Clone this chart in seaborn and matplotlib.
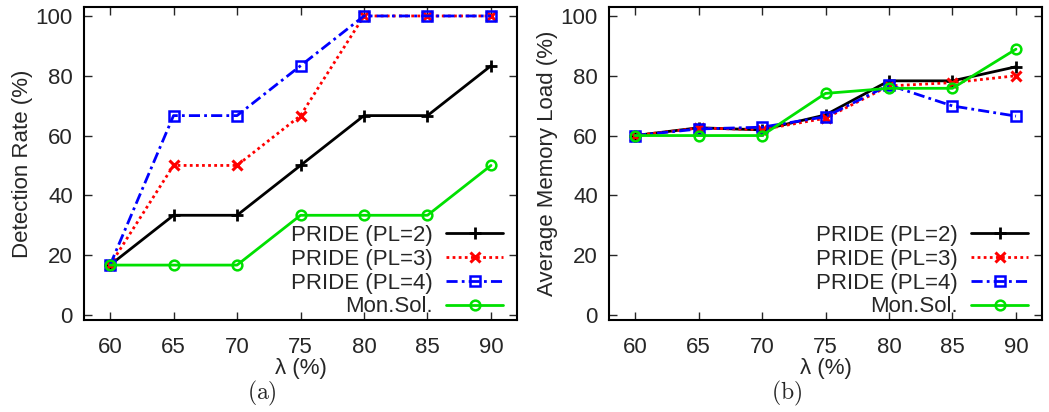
import numpy as np
import pandas as pd
import matplotlib
matplotlib.use("Agg")
import matplotlib.pyplot as plt
import seaborn as sns

# Load factor lambda (%)
lam = [60, 65, 70, 75, 80, 85, 90]
series_names = ["PRIDE (PL=2)", "PRIDE (PL=3)", "PRIDE (PL=4)", "Mon.Sol."]

# (a) detection rate (%)
det_pl2 = [16.67, 33.33, 33.33, 50.0, 66.67, 66.67, 83.33]
det_pl3 = [16.67, 50.0, 50.0, 66.67, 100.0, 100.0, 100.0]
det_pl4 = [16.67, 66.67, 66.67, 83.33, 100.0, 100.0, 100.0]
det_mon = [16.67, 16.67, 16.67, 33.33, 33.33, 33.33, 50.0]

# (b) average memory load (%)
mem_pl2 = [60.0, 62.6, 61.9, 66.9, 78.3, 78.3, 83.0]
mem_pl3 = [60.0, 62.5, 62.0, 65.8, 76.6, 77.7, 80.0]
mem_pl4 = [60.0, 62.2, 62.8, 66.3, 76.9, 69.9, 66.5]
mem_mon = [60.0, 60.0, 60.0, 74.1, 75.8, 75.8, 88.9]

y_ticks = [0, 20, 40, 60, 80, 100]

sns.set_theme(style="ticks")
plt.rcParams["font.family"] = ["Liberation Sans", "DejaVu Sans"]
plt.rcParams["mathtext.fontset"] = "cm"

styles = {
    "PRIDE (PL=2)": dict(color="black", ls="-", marker="+", ms=9, mew=2.0, mfc="none"),
    "PRIDE (PL=3)": dict(color="#ff0000", ls=(0, (1, 1.2)), marker="x", ms=7, mew=2.2, mfc="none"),
    "PRIDE (PL=4)": dict(color="#0000ff", ls=(0, (4, 1.5, 1, 1.5)), marker="s", ms=7, mew=1.8, mfc="none"),
    "Mon.Sol.": dict(color="#00e000", ls="-", marker="o", ms=7, mew=1.8, mfc="none"),
}


def long_frame(values):
    rows = []
    for name, vals in zip(series_names, values):
        for x, y in zip(lam, vals):
            rows.append({"lambda": x, "value": y, "series": name})
    return pd.DataFrame(rows)


fig = plt.figure(figsize=(10.49, 4.12), dpi=100)
ax_a = fig.add_axes([84 / 1049, 92 / 412, 433 / 1049, 313 / 412])
ax_b = fig.add_axes([609 / 1049, 92 / 412, 433 / 1049, 313 / 412])

panels = [
    (ax_a, [det_pl2, det_pl3, det_pl4, det_mon], "Detection Rate (%)", "(a)", 262),
    (ax_b, [mem_pl2, mem_pl3, mem_pl4, mem_mon], "Average Memory Load (%)", "(b)", 787),
]

for ax, values, ylabel, caption, cx in panels:
    df = long_frame(values)
    for name in series_names:
        st = styles[name]
        sub = df[df["series"] == name]
        sns.lineplot(data=sub, x="lambda", y="value", ax=ax, label=name,
                     color=st["color"], linestyle=st["ls"], linewidth=2.0,
                     marker=st["marker"], markersize=st["ms"],
                     markeredgewidth=st["mew"], markerfacecolor=st["mfc"],
                     markeredgecolor=st["color"])
    ax.set_xlim(57.95, 92.05)
    ax.set_ylim(-1.7, 103.0)
    ax.set_xticks(lam)
    ax.set_yticks(y_ticks)
    ax.tick_params(direction="in", length=6, width=1.0, labelsize=16,
                   top=True, right=True)
    ax.tick_params(axis="x", pad=12)
    ax.tick_params(axis="y", pad=8)
    for sp in ax.spines.values():
        sp.set_linewidth(1.5)
        sp.set_color("black")
    ax.set_xlabel("λ (%)", fontsize=16, labelpad=0)
    ax.set_ylabel(ylabel, fontsize=16, labelpad=2)
    leg = ax.legend(loc="lower right", bbox_to_anchor=(0.978, -0.006),
                    frameon=False, markerfirst=False, fontsize=16,
                    handlelength=2.55, handletextpad=0.6, labelspacing=0.13,
                    borderpad=0.2, borderaxespad=0.0, numpoints=1)
    for t in leg.get_texts():
        t.set_ha("right")
    fig.text(cx / 1049, 1 - 393 / 412, r"$\mathrm{" + caption + "}$",
             ha="center", va="center", fontsize=17)

fig.savefig("out.png", dpi=100)
